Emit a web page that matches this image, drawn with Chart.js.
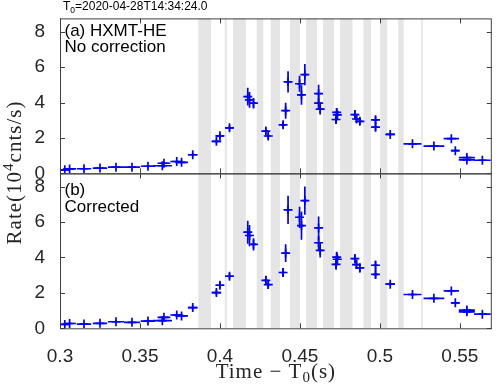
<!DOCTYPE html>
<html>
<head>
<meta charset="utf-8">
<script src="https://cdn.jsdelivr.net/npm/chart.js@4.4.1/dist/chart.umd.min.js"></script>
<style>
  html, body { margin: 0; padding: 0; background: #fff; }
  #wrap { width: 498px; height: 389px; }
</style>
</head>
<body>
<div id="wrap"><canvas id="rateChart" width="498" height="389"></canvas></div>
<script>
// bin centres (s after T0) and half widths
const timeBins = [0.303, 0.306, 0.315, 0.325, 0.335, 0.345, 0.355, 0.365, 0.364, 0.373, 0.376, 0.383,
    0.3978, 0.400, 0.406, 0.4174, 0.4185, 0.421, 0.4287, 0.4302, 0.4395, 0.4411, 0.4426,
    0.4498, 0.4510, 0.4531, 0.4617, 0.4617, 0.4627, 0.4730, 0.4734, 0.4726, 0.4844, 0.4854,
    0.4875, 0.4973, 0.4973, 0.5065, 0.5204, 0.5338, 0.5447, 0.5472, 0.5544, 0.5544, 0.5641];
const timeHalfWidth = [0.003, 0.004, 0.0045, 0.0045, 0.005, 0.005, 0.0045, 0.004, 0.006, 0.004, 0.004, 0.003,
    0.003, 0.0025, 0.0025, 0.0015, 0.0015, 0.0015, 0.0015, 0.0015, 0.0015, 0.0015, 0.0015,
    0.0015, 0.0015, 0.0015, 0.0015, 0.0015, 0.0015, 0.0015, 0.0015, 0.0015, 0.0015, 0.0015,
    0.0015, 0.0015, 0.0015, 0.003, 0.0056, 0.0065, 0.0048, 0.0025, 0.005, 0.005, 0.0052];

// (a) no correction, 10^4 cnts/s
const rateRaw = [0.20, 0.25, 0.26, 0.30, 0.35, 0.35, 0.40, 0.57, 0.43, 0.67, 0.62, 1.05,
    1.81, 2.12, 2.57, 4.33, 4.15, 3.96, 2.39, 2.11, 2.74, 3.54, 5.17,
    5.06, 4.43, 5.57, 4.50, 3.96, 3.63, 3.44, 3.30, 3.04, 3.32, 3.07,
    2.94, 3.02, 2.61, 2.20, 1.67, 1.54, 1.96, 1.28, 0.89, 0.76, 0.74];
const rateRawErr = [0.07, 0.07, 0.07, 0.07, 0.07, 0.07, 0.07, 0.07, 0.07, 0.07, 0.07, 0.10,
    0.12, 0.15, 0.15, 0.50, 0.45, 0.30, 0.20, 0.20, 0.20, 0.45, 0.60,
    0.45, 0.55, 0.60, 0.50, 0.30, 0.30, 0.25, 0.25, 0.25, 0.25, 0.20,
    0.20, 0.20, 0.20, 0.10, 0.07, 0.07, 0.07, 0.07, 0.07, 0.07, 0.07];

// (b) corrected
const rateCorr = [0.22, 0.27, 0.24, 0.28, 0.37, 0.34, 0.41, 0.62, 0.43, 0.75, 0.70, 1.17,
    2.02, 2.43, 2.94, 5.43, 5.24, 4.74, 2.71, 2.47, 3.15, 4.25, 6.69,
    6.27, 5.80, 7.21, 5.67, 4.83, 4.40, 4.02, 3.90, 3.61, 3.93, 3.60,
    3.41, 3.56, 3.05, 2.49, 1.91, 1.69, 2.11, 1.44, 1.03, 0.93, 0.80];
const rateCorrErr = [0.08, 0.08, 0.08, 0.08, 0.08, 0.08, 0.08, 0.08, 0.08, 0.08, 0.08, 0.12,
    0.15, 0.18, 0.18, 0.65, 0.60, 0.35, 0.25, 0.25, 0.25, 0.50, 0.80,
    0.60, 0.80, 0.80, 0.65, 0.40, 0.40, 0.30, 0.30, 0.30, 0.25, 0.25,
    0.25, 0.25, 0.25, 0.12, 0.08, 0.08, 0.08, 0.08, 0.08, 0.08, 0.08];

// shaded intervals
const bandStart = [0.3865, 0.4030, 0.4082, 0.4230, 0.4318, 0.4438, 0.4539, 0.4644, 0.4751, 0.4897, 0.5002, 0.5115, 0.5258];
const bandEnd   = [0.3944, 0.4043, 0.4162, 0.4271, 0.4376, 0.4500, 0.4607, 0.4714, 0.4829, 0.4945, 0.5046, 0.5149, 0.5268];

const xTicks = [0.3, 0.35, 0.4, 0.45, 0.5, 0.55];
const yTicks = [0, 2, 4, 6, 8];

const blue = '#0000ff';
const axisColor = '#404040';

const toPoints = (ys) => timeBins.map((t, i) => ({ x: t, y: ys[i] }));

const bandsPlugin = {
    id: 'bands',
    beforeDatasetsDraw(chart) {
        const { ctx, chartArea, scales } = chart;
        ctx.save();
        ctx.fillStyle = '#e5e5e5';
        bandStart.forEach((s, i) => {
            const x0 = scales.x.getPixelForValue(s);
            const x1 = scales.x.getPixelForValue(bandEnd[i]);
            ctx.fillRect(x0, chartArea.top, x1 - x0, chartArea.bottom - chartArea.top);
        });
        ctx.restore();
    }
};

const errorBarPlugin = {
    id: 'errorBars',
    afterDatasetsDraw(chart) {
        const { ctx, scales } = chart;
        ctx.save();
        ctx.strokeStyle = blue;
        ctx.lineWidth = 1.7;
        chart.data.datasets.forEach((ds) => {
            const ys = scales[ds.yAxisID];
            ds.data.forEach((p, i) => {
                const cx = scales.x.getPixelForValue(p.x);
                const cy = ys.getPixelForValue(p.y);
                const xl = scales.x.getPixelForValue(p.x - timeHalfWidth[i]);
                const xr = scales.x.getPixelForValue(p.x + timeHalfWidth[i]);
                const yt = ys.getPixelForValue(p.y + ds.yErr[i]);
                const yb = ys.getPixelForValue(p.y - ds.yErr[i]);
                ctx.beginPath();
                ctx.moveTo(xl, cy); ctx.lineTo(xr, cy);
                ctx.moveTo(cx, yt); ctx.lineTo(cx, yb);
                ctx.stroke();
            });
        });
        ctx.restore();
    }
};

const framePlugin = {
    id: 'frame',
    afterDraw(chart) {
        const { ctx, chartArea, scales } = chart;
        const L = chartArea.left, R = chartArea.right;
        const tl = 5;
        ctx.save();
        ctx.strokeStyle = axisColor;
        ctx.lineWidth = 1;
        ['yA', 'yB'].forEach((id) => {
            const s = scales[id];
            ctx.strokeRect(L + 0.5, s.top + 0.5, R - L - 1, s.bottom - s.top);
            ctx.beginPath();
            xTicks.forEach((v) => {
                const px = Math.round(scales.x.getPixelForValue(v)) + 0.5;
                ctx.moveTo(px, s.bottom); ctx.lineTo(px, s.bottom - tl);
                ctx.moveTo(px, s.top); ctx.lineTo(px, s.top + tl);
            });
            yTicks.forEach((v) => {
                const py = Math.round(s.getPixelForValue(v)) + 0.5;
                ctx.moveTo(L, py); ctx.lineTo(L + tl, py);
                ctx.moveTo(R, py); ctx.lineTo(R - tl, py);
            });
            ctx.stroke();
        });
        ctx.restore();
    }
};

// draws pieces [text, size, dy] in a row, centred or left aligned at (x, y)
function drawRich(ctx, parts, family, x, y, align) {
    let w = 0;
    parts.forEach((p) => { ctx.font = p[1] + 'px ' + family; w += ctx.measureText(p[0]).width; });
    let cx = align === 'center' ? x - w / 2 : x;
    parts.forEach((p) => {
        ctx.font = p[1] + 'px ' + family;
        ctx.fillText(p[0], cx, y + (p[2] || 0));
        cx += ctx.measureText(p[0]).width;
    });
}

const textPlugin = {
    id: 'texts',
    afterDraw(chart) {
        const { ctx, chartArea } = chart;
        ctx.save();
        ctx.fillStyle = '#000';
        ctx.textBaseline = 'alphabetic';
        ctx.textAlign = 'left';
        drawRich(ctx, [['T', 12], ['0', 8.5, 3.5], ['=2020-04-28T14:34:24.0', 12]], '"Liberation Sans"', 63, 9.5, 'left');

        ctx.font = '17px "Liberation Sans"';
        ctx.fillText('(a) HXMT-HE', 64.5, 35.7);
        ctx.fillText('No correction', 64.5, 52.4);
        ctx.fillText('(b)', 64.5, 195);
        ctx.fillText('Corrected', 64.5, 211.7);

        ctx.fillStyle = '#262626';
        ctx.letterSpacing = '1px';
        const midX = (chartArea.left + chartArea.right) / 2;
        drawRich(ctx, [['Time \u2212 T', 21], ['0', 15, 4], ['(s)', 21]], '"Liberation Serif"', midX, 378, 'center');

        ctx.translate(21, 172.5);
        ctx.rotate(-Math.PI / 2);
        drawRich(ctx, [['Rate(10', 21], ['4', 15, -8], ['cnts/s)', 21]], '"Liberation Serif"', 0, 0, 'center');
        ctx.restore();
    }
};

const tickFont = { family: '"Liberation Sans"', size: 19 };

function yScale() {
    return {
        type: 'linear',
        position: 'left',
        stack: 'rates',
        stackWeight: 1,
        min: 0,
        max: 8.75,
        grid: { display: false },
        border: { display: false },
        ticks: { font: tickFont, color: '#262626', padding: 7, autoSkip: false },
        afterBuildTicks: (s) => { s.ticks = yTicks.map((v) => ({ value: v })); },
        afterFit: (s) => { s.width = 60; }
    };
}

new Chart(document.getElementById('rateChart'), {
    type: 'scatter',
    data: {
        datasets: [
            {
                label: 'Corrected',
                data: toPoints(rateCorr),
                yErr: rateCorrErr,
                yAxisID: 'yB',
                pointStyle: 'cross',
                pointRadius: 4.5,
                borderColor: blue,
                borderWidth: 1.7
            },
            {
                label: 'No correction',
                data: toPoints(rateRaw),
                yErr: rateRawErr,
                yAxisID: 'yA',
                pointStyle: 'cross',
                pointRadius: 4.5,
                borderColor: blue,
                borderWidth: 1.7
            }
        ]
    },
    options: {
        responsive: false,
        animation: false,
        layout: { padding: { top: 16.5, right: 1, left: 0, bottom: 0 } },
        plugins: { legend: { display: false }, tooltip: { enabled: false } },
        scales: {
            x: {
                type: 'linear',
                position: 'bottom',
                min: 0.3,
                max: 0.57,
                grid: { display: false },
                border: { display: false },
                ticks: { font: tickFont, color: '#262626', padding: 9, autoSkip: false, maxRotation: 0,
                    callback: (v) => String(v) },
                afterBuildTicks: (s) => { s.ticks = xTicks.map((v) => ({ value: v })); },
                afterFit: (s) => { s.height = 60.7; }
            },
            yB: yScale(),
            yA: yScale()
        }
    },
    plugins: [bandsPlugin, errorBarPlugin, framePlugin, textPlugin]
});
</script>
</body>
</html>
